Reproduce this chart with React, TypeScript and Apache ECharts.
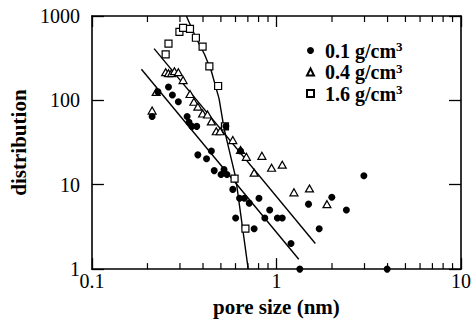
import React, { useEffect, useRef } from 'react';
import * as echarts from 'echarts';

const FONT = 'Liberation Serif';

const seriesNames = ['0.1 g/cm3', '0.4 g/cm3', '1.6 g/cm3'];

// 0.1 g/cm3 (filled circles): [pore size nm, distribution]
const density01: [number, number][] = [
  [0.212, 64.4], [0.228, 126], [0.26, 144], [0.273, 116], [0.294, 96.3],
  [0.328, 64.4], [0.336, 54.8], [0.348, 49.2], [0.37, 49.2], [0.375, 22.6],
  [0.418, 20.3], [0.444, 25.1], [0.46, 14.7], [0.501, 13.2], [0.52, 15.1],
  [0.539, 13.2], [0.532, 49.2], [0.58, 8.81], [0.631, 6.92], [0.67, 6.92],
  [0.712, 6.05], [0.804, 6.92], [0.601, 4.04], [0.757, 3.01], [0.865, 4.04],
  [0.919, 5.01], [1.012, 4.04], [1.075, 4.04], [0.639, 25.1], [1.199, 2.01],
  [1.492, 5.89], [1.704, 3.01], [1.995, 7.11], [2.393, 5.01], [2.976, 12.8],
  [1.338, 1], [3.98, 1],
];

// 0.4 g/cm3 (open triangles)
const density04: [number, number][] = [
  [0.212, 75.6], [0.223, 126], [0.251, 216], [0.26, 210], [0.27, 210],
  [0.28, 222], [0.294, 216], [0.312, 174], [0.34, 119], [0.357, 96.3],
  [0.375, 84.2], [0.398, 69.8], [0.423, 67.9], [0.444, 56.3], [0.472, 43.0],
  [0.495, 43.0], [0.58, 33.8], [0.639, 25.8], [0.687, 21.4], [0.757, 13.9],
  [0.834, 22.0], [0.941, 15.9], [1.075, 17.3], [1.244, 8.13], [1.51, 9.05],
  [1.878, 5.89],
];

// 1.6 g/cm3 (open squares)
const density16: [number, number][] = [
  [0.251, 350], [0.26, 470], [0.298, 649], [0.312, 722], [0.34, 703],
  [0.366, 552], [0.398, 434], [0.433, 253], [0.483, 148], [0.526, 49.2],
  [0.593, 11.8], [0.679, 3.01],
];

// fitted lines
const fit01: [number, number][] = [[0.1855, 233.8], [1.321, 1.308]];
const fit04: [number, number][] = [[0.2173, 411], [1.624, 2.01]];
const fit16: [number, number][] = [
  [0.325, 1000], [0.366, 552], [0.408, 350], [0.444, 221], [0.489, 104],
  [0.52, 46.6], [0.601, 12.2], [0.703, 1],
];

const xMinorTicks = [0.2, 0.3, 0.4, 0.5, 0.6, 0.7, 0.8, 0.9, 2, 3, 4, 5, 6, 7, 8, 9];

export default function App() {
  const ref = useRef<HTMLDivElement>(null);
  useEffect(() => {
    if (!ref.current) return;
    const chart = echarts.init(ref.current, undefined, { renderer: 'svg' });
    const axisLine = { show: true, lineStyle: { color: '#000', width: 1.6 } };
    const baseX = {
      type: 'log' as const, logBase: 10, min: 0.1, max: 10, interval: 1,
      axisLine, splitLine: { show: false },
      axisTick: { show: true, inside: true, length: 11, lineStyle: { color: '#000', width: 1.3 } },
    };
    const baseY = {
      type: 'log' as const, logBase: 10, min: 1, max: 1000, interval: 1,
      axisLine, splitLine: { show: false },
      axisTick: { show: true, inside: true, length: 12, lineStyle: { color: '#000', width: 1.3 } },
    };
    const lineSeries = (data: [number, number][]) => ({
      type: 'line', data, showSymbol: false, symbol: 'none', silent: true,
      lineStyle: { color: '#000', width: 1.4 }, z: 2, clip: true,
    });
    chart.setOption({
      animation: false,
      textStyle: { fontFamily: FONT },
      grid: { left: 84, right: 10, top: 16, bottom: 49 },
      xAxis: [
        {
          ...baseX, position: 'bottom',
          axisLabel: { color: '#000', fontFamily: FONT, fontSize: 20, margin: 2, formatter: (v: number) => String(v) },
          name: 'pore size (nm)', nameLocation: 'middle', nameGap: 13,
          nameTextStyle: { color: '#000', fontFamily: FONT, fontSize: 21, fontWeight: 'bold' },
        },
        { ...baseX, position: 'top', axisLabel: { show: false } },
      ],
      yAxis: [
        {
          ...baseY, position: 'left',
          axisLabel: { color: '#000', fontFamily: FONT, fontSize: 20, margin: 12, formatter: (v: number) => String(v) },
          name: 'distribution', nameLocation: 'middle', nameGap: 62,
          nameTextStyle: { color: '#000', fontFamily: FONT, fontSize: 21, fontWeight: 'bold' },
        },
        { ...baseY, position: 'right', axisLabel: { show: false } },
      ],
      legend: {
        data: seriesNames,
        orient: 'vertical', left: 301, top: 35, itemWidth: 7, itemHeight: 7, itemGap: 1,
        formatter: (n: string) => n.replace('cm3', 'cm{sup|3}'),
        textStyle: {
          color: '#000', fontFamily: FONT, fontSize: 20, fontWeight: 'bold',
          padding: [0, 0, 0, 6],
          rich: {
            sup: { color: '#000', fontFamily: FONT, fontSize: 13, fontWeight: 'bold', padding: [0, 0, 8, 0] },
          },
        },
      },
      series: [
        lineSeries(fit01),
        lineSeries(fit04),
        lineSeries(fit16),
        {
          type: 'custom', silent: true, clip: false,
          data: xMinorTicks.map((v) => [v, 1]),
          renderItem: (_p: any, api: any) => {
            const v = api.value(0);
            const b = api.coord([v, 1]);
            const t = api.coord([v, 1000]);
            return {
              type: 'group',
              children: [
                { type: 'line', shape: { x1: b[0], y1: b[1], x2: b[0], y2: b[1] - 6 }, style: { stroke: '#000', lineWidth: 1.2 } },
                { type: 'line', shape: { x1: t[0], y1: t[1], x2: t[0], y2: t[1] + 6 }, style: { stroke: '#000', lineWidth: 1.2 } },
              ],
            };
          },
        },
        {
          name: seriesNames[2], type: 'scatter', data: density16, symbol: 'rect', symbolSize: 7, clip: false, z: 3,
          itemStyle: { color: '#fff', borderColor: '#000', borderWidth: 1.2, opacity: 1 },
        },
        {
          name: seriesNames[1], type: 'scatter', data: density04, symbol: 'triangle', symbolSize: [8, 7], clip: false, z: 3,
          itemStyle: { color: '#fff', borderColor: '#000', borderWidth: 1.2, opacity: 1 },
        },
        {
          name: seriesNames[0], type: 'scatter', data: density01, symbol: 'circle', symbolSize: 7, clip: false, z: 4,
          itemStyle: { color: '#000', opacity: 1 },
        },
      ],
    });
    return () => chart.dispose();
  }, []);
  return (
    <div ref={ref} style={{ position: 'fixed', left: 0, top: 0, width: 474, height: 322, background: '#fff' }} />
  );
}
